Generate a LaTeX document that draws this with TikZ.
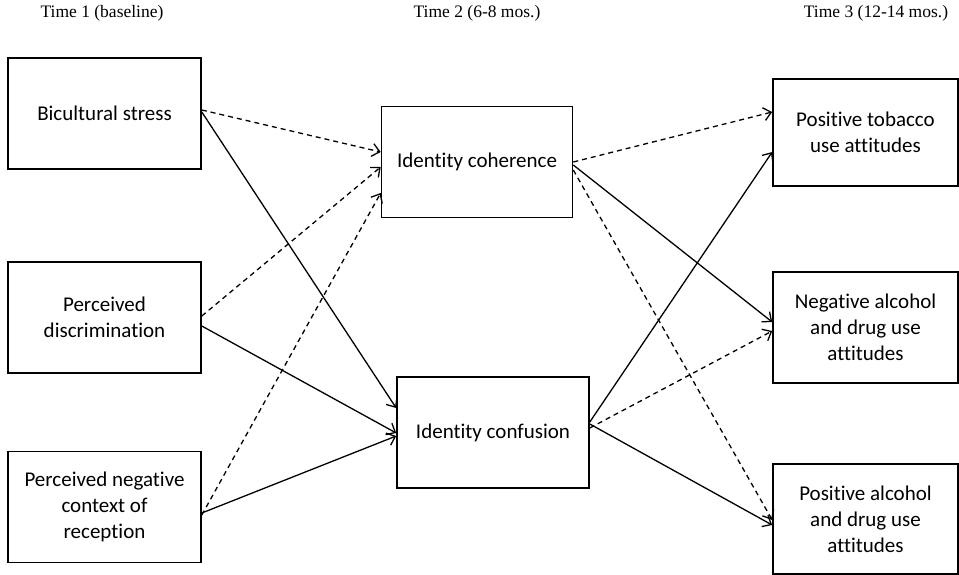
\documentclass[tikz,border=0pt]{standalone}
\usepackage{fontspec}
\setmainfont{Carlito}[Ligatures=NoCommon]
\newfontfamily\headfont{Liberation Serif}
\usetikzlibrary{arrows.meta}
\begin{document}
\begin{tikzpicture}[x=1pt, y=-1pt,
    var/.style={draw, line width=1.6pt, align=center, inner sep=0pt, font=\fontsize{21}{26}\selectfont},
    time/.style={font=\headfont\fontsize{17.5}{20}\selectfont},
    path/.style={line width=1.3pt, -{Straight Barb[length=7.5pt,width=13pt]}},
    nspath/.style={path, dash pattern=on 5pt off 4pt}]

      \useasboundingbox (0,0) rectangle (959,574);

      \node[time] (t1) at (102,13) {Time 1 (baseline)};
      \node[time] (t2) at (477,13) {Time 2 (6-8 mos.)};
      \node[time] (t3) at (876,13) {Time 3 (12-14 mos.)};

      \node[var, minimum width=193pt, minimum height=111pt] (stress) at (104.5,113.5) {Bicultural stress};
      \node[var, minimum width=193pt, minimum height=111pt] (discr) at (104.5,317.5) {Perceived\\discrimination};
      \node[var, minimum width=193pt, minimum height=111pt] (context) at (104.5,507) {Perceived negative\\context of\\reception};

      \node[var, minimum width=191pt, minimum height=111pt] (coher) at (477,162) {Identity coherence};
      \node[var, minimum width=192pt, minimum height=111pt] (confus) at (493,432.5) {Identity confusion};

      \node[var, minimum width=185pt, minimum height=107pt] (tobacco) at (865.5,132.5) {Positive tobacco\\use attitudes};
      \node[var, minimum width=185pt, minimum height=111pt] (negalc) at (865.5,327.5) {Negative alcohol\\and drug use\\attitudes};
      \node[var, minimum width=185pt, minimum height=110pt] (posalc) at (865.5,519) {Positive alcohol\\and drug use\\attitudes};

      \draw[nspath] ([yshift=3.5pt]stress.east) -- ([yshift=10pt]coher.west);
      \draw[path] ([yshift=1.5pt]stress.east) -- ([yshift=24.5pt]confus.west);
      \draw[nspath] ([yshift=1.5pt]discr.east) -- ([yshift=-5pt]coher.west);
      \draw[path] ([yshift=-8.5pt]discr.east) -- ([yshift=-0.5pt]confus.west);
      \draw[nspath] ([yshift=-8pt]context.east) -- ([yshift=-31pt]coher.west);
      \draw[path] ([yshift=-6pt]context.east) -- ([yshift=-3.5pt]confus.west);

      \draw[nspath] (coher.east) -- ([yshift=20.5pt]tobacco.west);
      \draw[path] ([yshift=-3pt]coher.east) -- ([yshift=5.5pt]negalc.west);
      \draw[nspath] ([yshift=-8pt]coher.east) -- ([yshift=-1pt]posalc.west);
      \draw[path] ([yshift=10.5pt]confus.east) -- ([yshift=-19.5pt]tobacco.west);
      \draw[nspath] ([yshift=4.5pt]confus.east) -- ([yshift=-3.5pt]negalc.west);
      \draw[path] ([yshift=8.5pt]confus.east) -- ([yshift=-6pt]posalc.west);
    \end{tikzpicture}
\end{document}
